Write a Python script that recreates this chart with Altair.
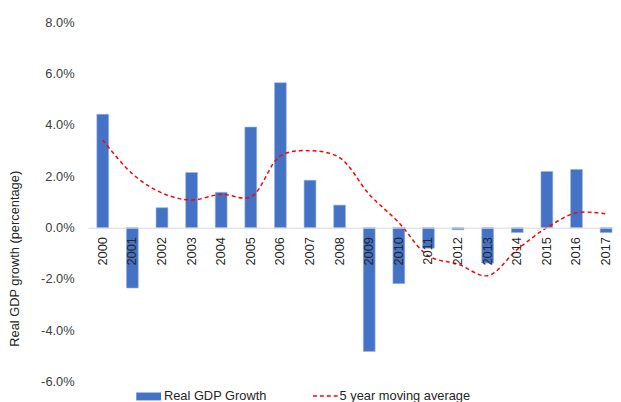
import altair as alt
import pandas as pd

years = [str(y) for y in range(2000, 2018)]
gdp_growth = [4.42, -2.35, 0.78, 2.15, 1.38, 3.92, 5.65, 1.85, 0.88, -4.82, -2.18,
              -0.80, -0.08, -1.38, -0.19, 2.19, 2.27, -0.19]
moving_avg = [3.42, 2.10, 1.35, 1.08, 1.30, 1.20, 2.80, 3.00, 2.73, 1.30, 0.20,
              -1.10, -1.42, -1.87, -0.85, 0.00, 0.58, 0.54]
y_ticks = [-6, -4, -2, 0, 2, 4, 6, 8]

df = pd.DataFrame({"year": years, "gdp": gdp_growth, "ma": moving_avg})

FONT = "Liberation Sans"
H = 364

x_scale = alt.Scale(range=[0, 540], paddingInner=0.6, paddingOuter=0.3)
y_scale = alt.Scale(domain=[-6, 8], nice=False, zero=False)

bars = alt.Chart(df).mark_bar(color="#4472C4", stroke="#9db4e0", strokeWidth=0.6).encode(
    x=alt.X("year:O", scale=x_scale, sort=None,
            axis=alt.Axis(title=None, labelAngle=270, labelAlign="right",
                          labelBaseline="middle", labelPadding=9, ticks=False, tickSize=0,
                          domainColor="#d9d9d9", domainWidth=1, offset=-156, zindex=2,
                          labelFont=FONT, labelFontSize=13, labelColor="#262626",
                          grid=False)),
    y=alt.Y("gdp:Q", scale=y_scale,
            axis=alt.Axis(values=y_ticks,
                          labelExpr="(datum.value < 0 ? '-' : '') + format(abs(datum.value), '.1f') + '%'",
                          title="Real GDP growth (percentage)", titleFont=FONT,
                          titleFontSize=13, titleFontWeight="normal", titleColor="#262626",
                          titleAngle=270, titleX=-74, titleY=239, titleAlign="center",
                          titleBaseline="middle",
                          domain=False, ticks=False, grid=False, labelPadding=14,
                          labelFont=FONT, labelFontSize=13, labelColor="#404040")),
)

line = alt.Chart(df).mark_line(color="#FF0000", strokeDash=[4, 3], strokeWidth=1.5,
                               interpolate="catmull-rom").encode(
    x=alt.X("year:O", sort=None),
    y=alt.Y("ma:Q"),
)

one = pd.DataFrame({"k": [0]})
leg_rect = alt.Chart(one).mark_rect(color="#4472C4").encode(
    x=alt.value(49), x2=alt.value(74), y=alt.value(375), y2=alt.value(383))
leg_text1 = alt.Chart(one).mark_text(text="Real GDP Growth", align="left", baseline="alphabetic",
                                     font=FONT, fontSize=13, color="#262626").encode(
    x=alt.value(77), y=alt.value(383))
leg_rule = alt.Chart(one).mark_rule(color="#FF0000", strokeDash=[4, 3], strokeWidth=1.5).encode(
    x=alt.value(228), x2=alt.value(253), y=alt.value(378.5))
leg_text2 = alt.Chart(one).mark_text(text="5 year moving average", align="left",
                                     baseline="alphabetic", font=FONT, fontSize=13,
                                     color="#262626").encode(
    x=alt.value(255), y=alt.value(383))

chart = alt.layer(bars, line, leg_rect, leg_text1, leg_rule, leg_text2).properties(
    width=532, height=H,
    background="white",
    autosize=alt.AutoSizeParams(type="none"),
    padding={"left": 81, "top": 12, "right": 0, "bottom": 18},
).configure_view(stroke=None)

chart.save("out.html", embed_options={"renderer": "svg", "actions": False})
